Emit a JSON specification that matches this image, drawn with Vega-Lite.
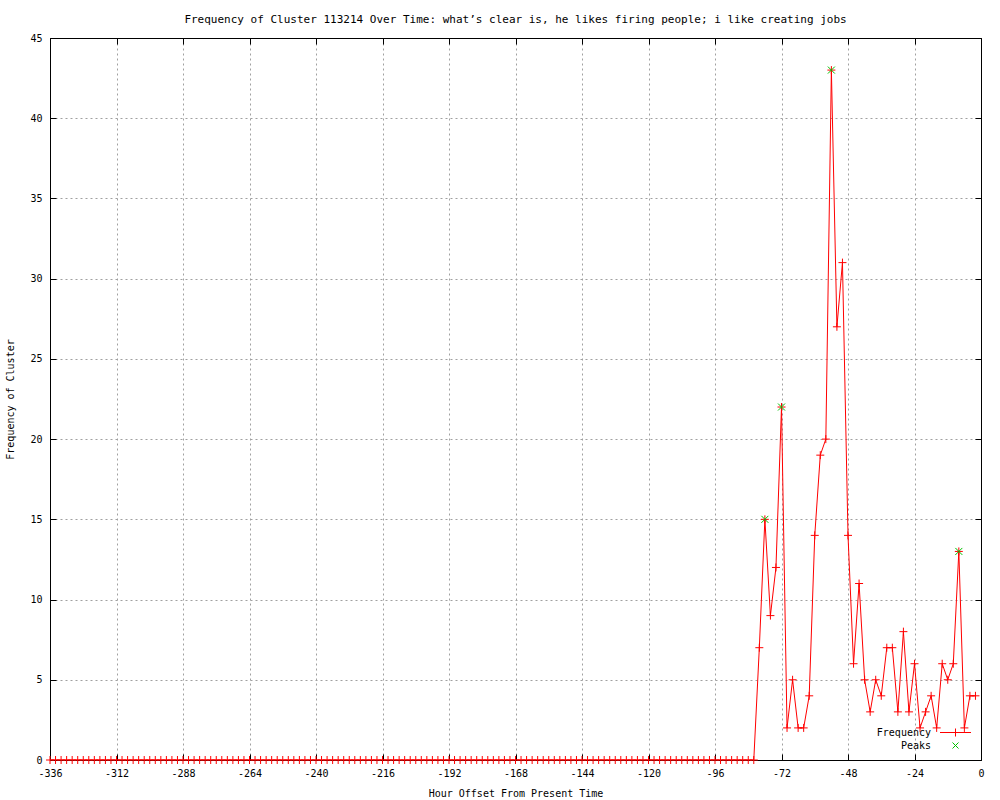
{
  "$schema": "https://vega.github.io/schema/vega-lite/v6.json",
  "width": 931,
  "height": 722,
  "autosize": {"type": "none"},
  "padding": {"left": 50, "top": 38, "right": 19, "bottom": 40},
  "background": "white",
  "config": {
    "font": "DejaVu Sans Mono",
    "view": {"stroke": "black", "strokeWidth": 1},
    "axis": {
      "labelFont": "DejaVu Sans Mono", "labelFontSize": 10, "labelColor": "black",
      "titleFont": "DejaVu Sans Mono", "titleFontSize": 10, "titleFontWeight": "normal", "titleColor": "black",
      "domainColor": "black", "tickColor": "black", "gridColor": "#a0a0a0", "gridDash": [2, 3], "gridWidth": 1
    }
  },
  "title": {
    "text": "Frequency of Cluster 113214 Over Time: what’s clear is, he likes firing people; i like creating jobs",
    "font": "DejaVu Sans Mono", "fontSize": 11, "fontWeight": "normal", "color": "black", "offset": 8
  },
  "datasets": {
    "freq": [
      {"h": -336, "f": 0}, {"h": -334, "f": 0}, {"h": -332, "f": 0}, {"h": -330, "f": 0}, {"h": -328, "f": 0}, {"h": -326, "f": 0}, {"h": -324, "f": 0}, {"h": -322, "f": 0},
      {"h": -320, "f": 0}, {"h": -318, "f": 0}, {"h": -316, "f": 0}, {"h": -314, "f": 0}, {"h": -312, "f": 0}, {"h": -310, "f": 0}, {"h": -308, "f": 0}, {"h": -306, "f": 0},
      {"h": -304, "f": 0}, {"h": -302, "f": 0}, {"h": -300, "f": 0}, {"h": -298, "f": 0}, {"h": -296, "f": 0}, {"h": -294, "f": 0}, {"h": -292, "f": 0}, {"h": -290, "f": 0},
      {"h": -288, "f": 0}, {"h": -286, "f": 0}, {"h": -284, "f": 0}, {"h": -282, "f": 0}, {"h": -280, "f": 0}, {"h": -278, "f": 0}, {"h": -276, "f": 0}, {"h": -274, "f": 0},
      {"h": -272, "f": 0}, {"h": -270, "f": 0}, {"h": -268, "f": 0}, {"h": -266, "f": 0}, {"h": -264, "f": 0}, {"h": -262, "f": 0}, {"h": -260, "f": 0}, {"h": -258, "f": 0},
      {"h": -256, "f": 0}, {"h": -254, "f": 0}, {"h": -252, "f": 0}, {"h": -250, "f": 0}, {"h": -248, "f": 0}, {"h": -246, "f": 0}, {"h": -244, "f": 0}, {"h": -242, "f": 0},
      {"h": -240, "f": 0}, {"h": -238, "f": 0}, {"h": -236, "f": 0}, {"h": -234, "f": 0}, {"h": -232, "f": 0}, {"h": -230, "f": 0}, {"h": -228, "f": 0}, {"h": -226, "f": 0},
      {"h": -224, "f": 0}, {"h": -222, "f": 0}, {"h": -220, "f": 0}, {"h": -218, "f": 0}, {"h": -216, "f": 0}, {"h": -214, "f": 0}, {"h": -212, "f": 0}, {"h": -210, "f": 0},
      {"h": -208, "f": 0}, {"h": -206, "f": 0}, {"h": -204, "f": 0}, {"h": -202, "f": 0}, {"h": -200, "f": 0}, {"h": -198, "f": 0}, {"h": -196, "f": 0}, {"h": -194, "f": 0},
      {"h": -192, "f": 0}, {"h": -190, "f": 0}, {"h": -188, "f": 0}, {"h": -186, "f": 0}, {"h": -184, "f": 0}, {"h": -182, "f": 0}, {"h": -180, "f": 0}, {"h": -178, "f": 0},
      {"h": -176, "f": 0}, {"h": -174, "f": 0}, {"h": -172, "f": 0}, {"h": -170, "f": 0}, {"h": -168, "f": 0}, {"h": -166, "f": 0}, {"h": -164, "f": 0}, {"h": -162, "f": 0},
      {"h": -160, "f": 0}, {"h": -158, "f": 0}, {"h": -156, "f": 0}, {"h": -154, "f": 0}, {"h": -152, "f": 0}, {"h": -150, "f": 0}, {"h": -148, "f": 0}, {"h": -146, "f": 0},
      {"h": -144, "f": 0}, {"h": -142, "f": 0}, {"h": -140, "f": 0}, {"h": -138, "f": 0}, {"h": -136, "f": 0}, {"h": -134, "f": 0}, {"h": -132, "f": 0}, {"h": -130, "f": 0},
      {"h": -128, "f": 0}, {"h": -126, "f": 0}, {"h": -124, "f": 0}, {"h": -122, "f": 0}, {"h": -120, "f": 0}, {"h": -118, "f": 0}, {"h": -116, "f": 0}, {"h": -114, "f": 0},
      {"h": -112, "f": 0}, {"h": -110, "f": 0}, {"h": -108, "f": 0}, {"h": -106, "f": 0}, {"h": -104, "f": 0}, {"h": -102, "f": 0}, {"h": -100, "f": 0}, {"h": -98, "f": 0},
      {"h": -96, "f": 0}, {"h": -94, "f": 0}, {"h": -92, "f": 0}, {"h": -90, "f": 0}, {"h": -88, "f": 0}, {"h": -86, "f": 0}, {"h": -84, "f": 0}, {"h": -82, "f": 0},
      {"h": -80, "f": 7}, {"h": -78, "f": 15}, {"h": -76, "f": 9}, {"h": -74, "f": 12}, {"h": -72, "f": 22}, {"h": -70, "f": 2}, {"h": -68, "f": 5}, {"h": -66, "f": 2},
      {"h": -64, "f": 2}, {"h": -62, "f": 4}, {"h": -60, "f": 14}, {"h": -58, "f": 19}, {"h": -56, "f": 20}, {"h": -54, "f": 43}, {"h": -52, "f": 27}, {"h": -50, "f": 31},
      {"h": -48, "f": 14}, {"h": -46, "f": 6}, {"h": -44, "f": 11}, {"h": -42, "f": 5}, {"h": -40, "f": 3}, {"h": -38, "f": 5}, {"h": -36, "f": 4}, {"h": -34, "f": 7},
      {"h": -32, "f": 7}, {"h": -30, "f": 3}, {"h": -28, "f": 8}, {"h": -26, "f": 3}, {"h": -24, "f": 6}, {"h": -22, "f": 2}, {"h": -20, "f": 3}, {"h": -18, "f": 4},
      {"h": -16, "f": 2}, {"h": -14, "f": 6}, {"h": -12, "f": 5}, {"h": -10, "f": 6}, {"h": -8, "f": 13}, {"h": -6, "f": 2}, {"h": -4, "f": 4}, {"h": -2, "f": 4}
    ],
    "peaks": [
      {"h": -78, "f": 15}, {"h": -72, "f": 22}, {"h": -54, "f": 43}, {"h": -8, "f": 13}
    ]
  },
  "layer": [
    {
      "data": {"name": "freq"},
      "mark": {"type": "line", "strokeWidth": 1, "clip": true},
      "encoding": {
        "x": {
          "field": "h", "type": "quantitative",
          "scale": {"domain": [-336, 0], "nice": false, "zero": false},
          "axis": {
            "orient": "bottom", "values": [-336, -312, -288, -264, -240, -216, -192, -168, -144, -120, -96, -72, -48, -24, 0],
            "labelExpr": "replace(datum.label, '−', '-')", "tickSize": -6, "labelPadding": 14, "labelFlush": false,
            "grid": true, "title": "Hour Offset From Present Time", "titlePadding": 10, "labelOverlap": false
          }
        },
        "y": {
          "field": "f", "type": "quantitative",
          "scale": {"domain": [0, 45], "nice": false},
          "axis": {
            "orient": "left", "values": [0, 5, 10, 15, 20, 25, 30, 35, 40, 45],
            "tickSize": -6, "labelPadding": 14, "grid": true, "title": "Frequency of Cluster", "titlePadding": 14, "labelFlush": false
          }
        },
        "color": {
          "datum": "Frequency",
          "scale": {"domain": ["Frequency", "Peaks"], "range": ["#ff0000", "#00c000"]},
          "legend": {
            "orient": "none", "legendX": 900, "legendY": 689, "title": null,
            "labelAlign": "right", "labelOffset": -30, "labelFont": "DejaVu Sans Mono", "labelFontSize": 10, "labelColor": "black",
            "symbolSize": 100, "rowPadding": 1, "symbolStrokeWidth": 1,
            "encode": {
              "symbols": {
                "update": {
                  "shape": {"signal": "datum.value === 'Frequency' ? 'M-3.1,0H3.1M0,-0.8V0.8' : 'M-0.6,-0.6L0.6,0.6M-0.6,0.6L0.6,-0.6'"},
                  "fill": {"value": "transparent"},
                  "strokeWidth": {"value": 1}
                }
              }
            }
          }
        }
      }
    },
    {
      "data": {"name": "freq"},
      "mark": {"type": "point", "shape": "M-1,0H1M0,-1V1", "filled": false, "size": 64, "strokeWidth": 1, "opacity": 1},
      "encoding": {
        "x": {
          "field": "h", "type": "quantitative",
          "axis": {"orient": "top", "values": [-336, -312, -288, -264, -240, -216, -192, -168, -144, -120, -96, -72, -48, -24, 0], "labels": false, "grid": false, "tickSize": -6, "title": null}
        },
        "y": {
          "field": "f", "type": "quantitative",
          "axis": {"orient": "right", "values": [0, 5, 10, 15, 20, 25, 30, 35, 40, 45], "labels": false, "grid": false, "tickSize": -6, "title": null}
        },
        "color": {"datum": "Frequency"}
      }
    },
    {
      "data": {"name": "peaks"},
      "mark": {"type": "point", "shape": "M-1,-1L1,1M-1,1L1,-1", "filled": false, "size": 49, "strokeWidth": 1, "opacity": 1},
      "encoding": {
        "x": {"field": "h", "type": "quantitative", "axis": null},
        "y": {"field": "f", "type": "quantitative", "axis": null},
        "color": {"datum": "Peaks"}
      }
    }
  ]
}
